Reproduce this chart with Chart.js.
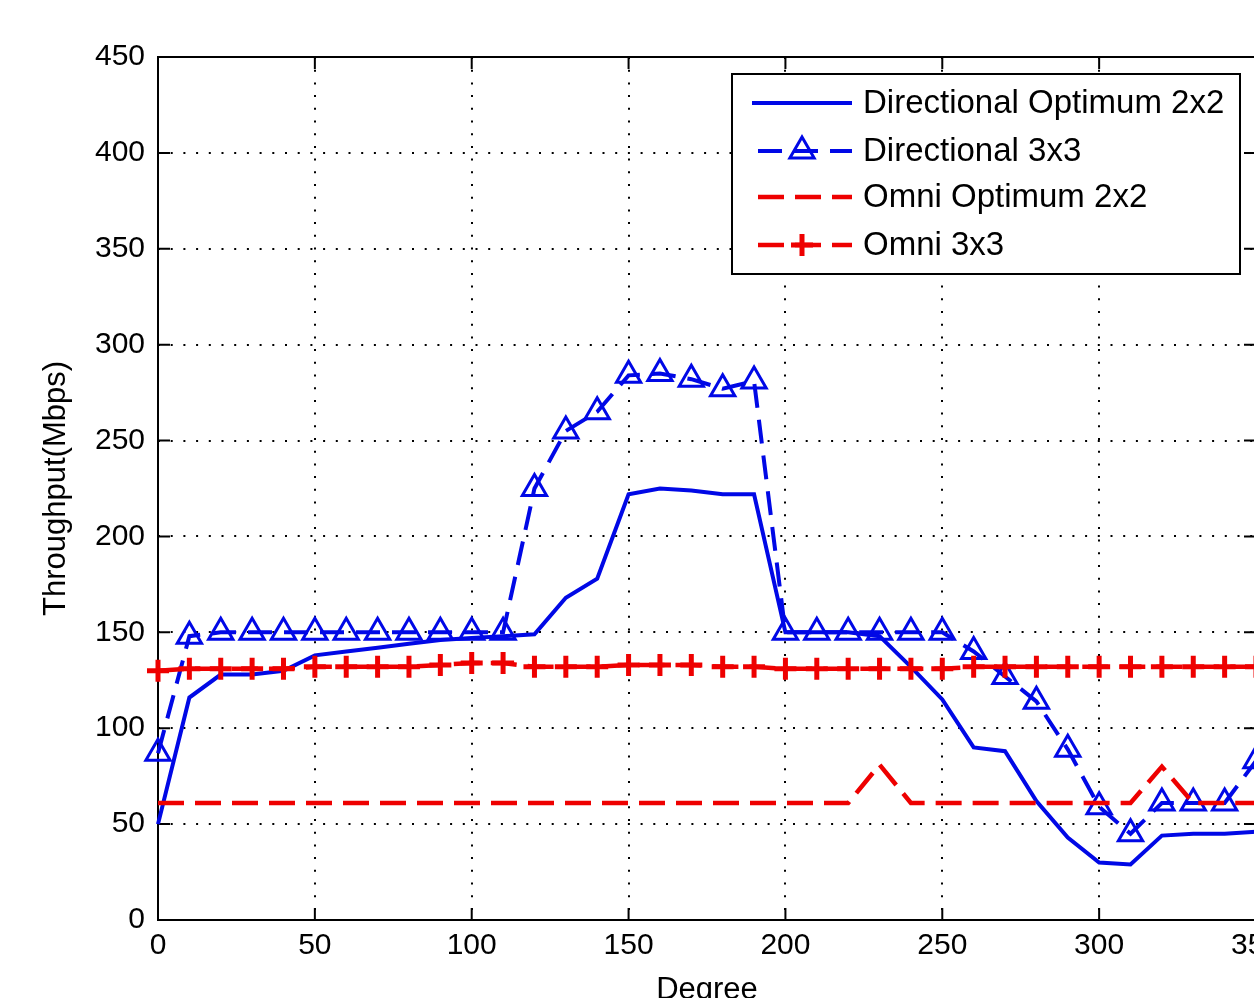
<!DOCTYPE html>
<html lang="en">
<head>
<meta charset="UTF-8">
<title>Throughput vs Degree</title>
<script src="https://cdn.jsdelivr.net/npm/chart.js@4"></script>
<style>
  html, body { margin: 0; padding: 0; background: #fff; overflow: hidden; }
  #wrap { width: 1262px; height: 1012px; }
</style>
</head>
<body>
<div id="wrap"><canvas id="chart" width="1262" height="1012"></canvas></div>
<script>
// data, one value every 10 degrees
const degrees = [0, 10, 20, 30, 40, 50, 60, 70, 80, 90, 100, 110, 120, 130, 140, 150, 160, 170,
                 180, 190, 200, 210, 220, 230, 240, 250, 260, 270, 280, 290, 300, 310, 320, 330, 340, 350];
const dirOpt2x2 = [50, 116, 128, 128, 130, 138, 140, 142, 144, 146, 147, 148, 149, 168, 178, 222, 225, 224,
                   222, 222, 150, 150, 150, 148, 132, 115, 90, 88, 62, 43, 30, 29, 44, 45, 45, 46];
const dir3x3 = [87, 148, 150, 150, 150, 150, 150, 150, 150, 150, 150, 150, 225, 255, 265, 284, 285, 282,
                277, 281, 150, 150, 150, 150, 150, 150, 140, 127, 114, 89, 59, 45, 61, 61, 61, 83];
const omniOpt2x2 = [61, 61, 61, 61, 61, 61, 61, 61, 61, 61, 61, 61, 61, 61, 61, 61, 61, 61,
                    61, 61, 61, 61, 61, 81, 61, 61, 61, 61, 61, 61, 61, 61, 80, 61, 61, 61];
const omni3x3 = [130, 131, 131, 131, 131, 132, 132, 132, 132, 133, 134, 134, 132, 132, 132, 133, 133, 133,
                 132, 132, 131, 131, 131, 131, 131, 131, 132, 132, 132, 132, 132, 132, 132, 132, 132, 132];
const seriesNames = ['Directional Optimum 2x2', 'Directional 3x3', 'Omni Optimum 2x2', 'Omni 3x3'];
const xTicks = [0, 50, 100, 150, 200, 250, 300, 350];
const yTicks = [0, 50, 100, 150, 200, 250, 300, 350, 400, 450];

const BLUE = '#0008e6';
const RED = '#ee0000';
const FONT = "'Liberation Sans', Arial, sans-serif";
const TICK = 12;

function pts(vals) {
    return degrees.map((d, i) => ({ x: d, y: vals[i] }));
}

// black box round the axes with inward ticks on all four sides (matlab look)
const frame = {
    id: 'frame',
    beforeDatasetsDraw(chart) {
        const { ctx, chartArea: a, scales: { x, y } } = chart;
        ctx.save();
        ctx.strokeStyle = '#000';
        ctx.lineWidth = 2;
        ctx.strokeRect(a.left, a.top, a.right - a.left, a.bottom - a.top);
        ctx.beginPath();
        x.ticks.forEach(t => {
            const px = x.getPixelForValue(t.value);
            ctx.moveTo(px, a.bottom); ctx.lineTo(px, a.bottom - TICK);
            ctx.moveTo(px, a.top); ctx.lineTo(px, a.top + TICK);
        });
        y.ticks.forEach(t => {
            const py = y.getPixelForValue(t.value);
            ctx.moveTo(a.left, py); ctx.lineTo(a.left + TICK, py);
            ctx.moveTo(a.right, py); ctx.lineTo(a.right - TICK, py);
        });
        ctx.stroke();
        ctx.restore();
    }
};

function marker(ctx, style, x, y, r) {
    ctx.beginPath();
    if (style === 'triangle') {
        for (let k = 0; k < 3; k++) {
            const ang = k * 2 * Math.PI / 3;
            const px = x + Math.sin(ang) * r, py = y - Math.cos(ang) * r;
            if (k === 0) ctx.moveTo(px, py); else ctx.lineTo(px, py);
        }
        ctx.closePath();
    } else if (style === 'cross') {
        ctx.moveTo(x - r, y); ctx.lineTo(x + r, y);
        ctx.moveTo(x, y - r); ctx.lineTo(x, y + r);
    }
    ctx.stroke();
}

// legend box drawn by hand so the samples show line + marker like the original
const legendBox = {
    id: 'legendBox',
    afterDraw(chart) {
        const ctx = chart.ctx;
        const rows = [103, 151, 197, 245];
        ctx.save();
        ctx.fillStyle = '#fff';
        ctx.fillRect(732, 74, 508, 200);
        ctx.strokeStyle = '#000';
        ctx.lineWidth = 2;
        ctx.strokeRect(732, 74, 508, 200);
        chart.data.datasets.forEach((ds, i) => {
            const y = rows[i];
            ctx.strokeStyle = ds.borderColor;
            ctx.lineWidth = ds.borderWidth;
            ctx.setLineDash(ds.borderDash || []);
            ctx.lineDashOffset = ds.borderDash ? -6 : 0;
            ctx.beginPath();
            ctx.moveTo(752, y); ctx.lineTo(852, y);
            ctx.stroke();
            ctx.setLineDash([]);
            if (ds.pointRadius > 0) {
                ctx.lineWidth = ds.pointBorderWidth;
                marker(ctx, ds.pointStyle, 802, y, ds.pointRadius);
            }
            ctx.fillStyle = '#000';
            ctx.font = '33px ' + FONT;
            ctx.textBaseline = 'middle';
            ctx.textAlign = 'left';
            ctx.fillText(ds.label, 863, y + 1);
        });
        ctx.restore();
    }
};

const gridStyle = { color: '#000', lineWidth: 2, drawTicks: false };
const borderStyle = { display: false, dash: [2, 10.7] };

new Chart(document.getElementById('chart'), {
    type: 'line',
    data: {
        datasets: [
            {
                label: seriesNames[0], data: pts(dirOpt2x2), order: 3,
                borderColor: BLUE, borderWidth: 4, pointRadius: 0, tension: 0, clip: false
            },
            {
                label: seriesNames[1], data: pts(dir3x3), order: 2,
                borderColor: BLUE, borderWidth: 4, borderDash: [24, 12],
                pointStyle: 'triangle', pointRadius: 14, pointBorderWidth: 3,
                pointBorderColor: BLUE, pointBackgroundColor: 'rgba(0,0,0,0)', tension: 0, clip: false
            },
            {
                label: seriesNames[2], data: pts(omniOpt2x2), order: 1,
                borderColor: RED, borderWidth: 4.5, borderDash: [26, 11], pointRadius: 0, tension: 0, clip: false
            },
            {
                label: seriesNames[3], data: pts(omni3x3), order: 0,
                borderColor: RED, borderWidth: 4.5, borderDash: [26, 11],
                pointStyle: 'cross', pointRadius: 11, pointBorderWidth: 5,
                pointBorderColor: RED, pointBackgroundColor: RED, tension: 0, clip: false
            }
        ]
    },
    options: {
        responsive: false,
        devicePixelRatio: 1,
        animation: false,
        layout: { autoPadding: false, padding: { left: 0, top: 57, right: 6, bottom: 0 } },
        plugins: { legend: { display: false }, tooltip: { enabled: false } },
        scales: {
            x: {
                type: 'linear', min: 0, max: 350,
                afterBuildTicks: s => { s.ticks = xTicks.map(v => ({ value: v })); },
                afterFit: s => { s.height = 92; s.paddingLeft = 0; s.paddingRight = 0; },
                ticks: { color: '#000', font: { family: FONT, size: 30 }, padding: 8, maxRotation: 0, autoSkip: false },
                grid: gridStyle,
                border: borderStyle,
                title: { display: true, text: 'Degree', color: '#000', font: { family: FONT, size: 31 }, padding: { top: 0, bottom: 3 } }
            },
            y: {
                type: 'linear', min: 0, max: 450,
                afterBuildTicks: s => { s.ticks = yTicks.map(v => ({ value: v })); },
                afterFit: s => { s.width = 158; s.paddingTop = 0; s.paddingBottom = 0; },
                ticks: { color: '#000', font: { family: FONT, size: 30 }, padding: 13, autoSkip: false },
                grid: gridStyle,
                border: borderStyle,
                title: { display: true, text: 'Throughput(Mbps)', color: '#000', font: { family: FONT, size: 31 }, padding: { top: 38, bottom: 0 } }
            }
        }
    },
    plugins: [frame, legendBox]
});
</script>
</body>
</html>
